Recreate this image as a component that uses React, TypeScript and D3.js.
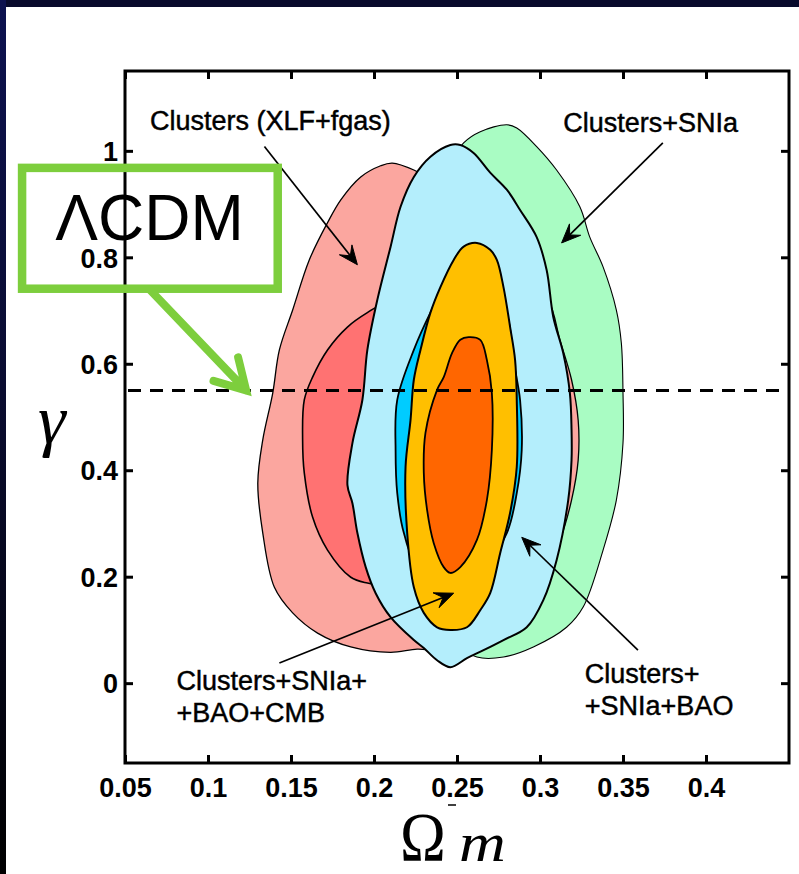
import { useEffect, useRef } from 'react';

import * as d3 from 'd3';

const width = 799;
const height = 874;
const [mt, mr, mb, ml] = [71, 10, 111, 125];

// axis ticks
const xTicks = [0.05, 0.1, 0.15, 0.2, 0.25, 0.3, 0.35, 0.4];
const xTickLabels = ['0.05', '0.1', '0.15', '0.2', '0.25', '0.3', '0.35', '0.4'];
const yTicks = [0, 0.2, 0.4, 0.6, 0.8, 1];
const yTickLabels = ['0', '0.2', '0.4', '0.6', '0.8', '1'];

// LCDM growth index
const lcdmGamma = 0.55;

// confidence contours, [Omega_m, gamma]
const clustersOuter: [number, number][] = [
    [0.211, 0.977], [0.224, 0.964], [0.234, 0.946], [0.258, 0.88], [0.285, 0.795], [0.305, 0.72],
    [0.312, 0.645], [0.319, 0.57], [0.323, 0.494], [0.323, 0.419], [0.319, 0.344], [0.312, 0.269],
    [0.303, 0.212], [0.288, 0.137], [0.264, 0.081], [0.24, 0.062], [0.226, 0.064], [0.21, 0.058],
    [0.186, 0.068], [0.166, 0.094], [0.151, 0.132], [0.14, 0.18], [0.133, 0.282], [0.13, 0.376],
    [0.133, 0.457], [0.139, 0.545], [0.143, 0.626], [0.151, 0.701], [0.161, 0.795], [0.172, 0.865],
    [0.18, 0.908], [0.192, 0.951], [0.204, 0.972]
];
const clustersInner: [number, number][] = [
    [0.204, 0.709], [0.228, 0.701], [0.258, 0.645], [0.279, 0.532], [0.288, 0.419], [0.282, 0.288],
    [0.258, 0.203], [0.222, 0.179], [0.196, 0.188], [0.186, 0.199], [0.172, 0.25], [0.163, 0.312],
    [0.158, 0.395], [0.157, 0.457], [0.158, 0.532], [0.163, 0.575], [0.172, 0.626], [0.184, 0.669],
    [0.196, 0.696]
];
const clustersSnOuter: [number, number][] = [
    [0.254, 1.015], [0.264, 1.036], [0.28, 1.049], [0.286, 1.043], [0.298, 1.008], [0.31, 0.964],
    [0.324, 0.895], [0.33, 0.838], [0.338, 0.782], [0.346, 0.701], [0.349, 0.639], [0.35, 0.545],
    [0.35, 0.451], [0.346, 0.344], [0.338, 0.25], [0.326, 0.143], [0.316, 0.105], [0.296, 0.068],
    [0.278, 0.049], [0.262, 0.049], [0.246, 0.081], [0.234, 0.231], [0.228, 0.532], [0.231, 0.814],
    [0.24, 0.946]
];
const clustersSnBaoOuter: [number, number][] = [
    [0.246, 1.011], [0.252, 1.011], [0.26, 0.996], [0.27, 0.959], [0.28, 0.927], [0.288, 0.889],
    [0.298, 0.838], [0.304, 0.776], [0.308, 0.688], [0.314, 0.62], [0.318, 0.545], [0.319, 0.476],
    [0.319, 0.419], [0.317, 0.344], [0.31, 0.231], [0.302, 0.156], [0.292, 0.105], [0.278, 0.081],
    [0.266, 0.062], [0.256, 0.047], [0.246, 0.03], [0.238, 0.043], [0.23, 0.066], [0.224, 0.081],
    [0.21, 0.124], [0.201, 0.169], [0.195, 0.218], [0.19, 0.282], [0.187, 0.338], [0.184, 0.372],
    [0.187, 0.451], [0.193, 0.532], [0.196, 0.626], [0.202, 0.72], [0.21, 0.82], [0.216, 0.895],
    [0.224, 0.951], [0.234, 0.989]
];
const clustersSnBaoInner: [number, number][] = [
    [0.255, 0.78], [0.264, 0.786], [0.273, 0.748], [0.281, 0.682], [0.284, 0.607], [0.288, 0.532],
    [0.289, 0.438], [0.286, 0.357], [0.28, 0.282], [0.267, 0.222], [0.249, 0.203], [0.225, 0.231],
    [0.218, 0.282], [0.214, 0.357], [0.213, 0.438], [0.214, 0.532], [0.224, 0.626], [0.234, 0.696],
    [0.243, 0.748]
];
const allOuter: [number, number][] = [
    [0.262, 0.827], [0.27, 0.814], [0.274, 0.795], [0.278, 0.744], [0.282, 0.669], [0.285, 0.607],
    [0.286, 0.532], [0.286, 0.406], [0.282, 0.32], [0.276, 0.244], [0.27, 0.169], [0.264, 0.137],
    [0.256, 0.105], [0.246, 0.1], [0.238, 0.105], [0.23, 0.132], [0.224, 0.18], [0.22, 0.282],
    [0.219, 0.406], [0.222, 0.494], [0.224, 0.57], [0.228, 0.626], [0.234, 0.696], [0.24, 0.744],
    [0.248, 0.795], [0.254, 0.82]
];
const allInner: [number, number][] = [
    [0.257, 0.65], [0.264, 0.645], [0.268, 0.607], [0.271, 0.545], [0.271, 0.438], [0.268, 0.344],
    [0.262, 0.269], [0.252, 0.218], [0.246, 0.207], [0.242, 0.218], [0.236, 0.263], [0.232, 0.325],
    [0.23, 0.395], [0.231, 0.47], [0.238, 0.551], [0.242, 0.575], [0.247, 0.62], [0.252, 0.645]
];

// drawing order (back to front)
const contours = [
    { pts: clustersSnOuter, fill: '#a9fcc3', sw: 1.1 },
    { pts: clustersOuter, fill: '#fba69f', sw: 1.3 },
    { pts: clustersInner, fill: '#ff7272', sw: 1.6 },
    { pts: clustersSnBaoOuter, fill: '#b4eefc', sw: 2 },
    { pts: clustersSnBaoInner, fill: '#00ccff', sw: 1.8 },
    { pts: allOuter, fill: '#ffbf00', sw: 2 },
    { pts: allInner, fill: '#ff6600', sw: 1.8 }
];

// annotations: label lines, label anchor, arrow from/to (data units)
const notes = [
    { lines: ['Clusters (XLF+fgas)'], at: [0.065, 1.04], from: [0.134, 1.008], to: [0.19, 0.786] },
    { lines: ['Clusters+SNIa'], at: [0.314, 1.036], from: [0.374, 1.015], to: [0.313, 0.827] },
    { lines: ['Clusters+SNIa+', '+BAO+CMB'], at: [0.081, -0.013], from: [0.143, 0.038], to: [0.248, 0.169] },
    { lines: ['Clusters+', '+SNIa+BAO'], at: [0.327, 0.0], from: [0.359, 0.062], to: [0.289, 0.274] }
];

const lcdmBox = { x0: -0.012, x1: 0.142, y0: 0.741, y1: 0.968 };
const lcdmText = [0.008, 0.833];
const lcdmArrow = { from: [0.065, 0.739], to: [0.123, 0.55] };

const sans = '"Liberation Sans", Arial, Helvetica, sans-serif';
const serif = '"Liberation Serif", "Times New Roman", serif';

export default function App() {
    const chart = useRef<SVGSVGElement>(null);

    useEffect(() => {
        const svg = d3.select(chart.current);
        svg.selectAll('*').remove();

        const x = d3.scaleLinear().domain([0.05, 0.45]).range([ml, width - mr]);
        const y = d3.scaleLinear().domain([-0.15, 1.15]).range([height - mb, mt]);

        // page background + dark border of the slide
        const defs = svg.append('defs');
        const lg = defs.append('linearGradient').attr('id', 'edge').attr('x1', 0).attr('y1', 0).attr('x2', 0).attr('y2', 1);
        lg.append('stop').attr('offset', '0%').attr('stop-color', '#0d1250');
        lg.append('stop').attr('offset', '45%').attr('stop-color', '#0a0c30');
        lg.append('stop').attr('offset', '100%').attr('stop-color', '#000000');
        svg.append('rect').attr('width', width).attr('height', height).attr('fill', '#ffffff');
        svg.append('rect').attr('width', width).attr('height', 7).attr('fill', '#080a2c');
        svg.append('rect').attr('width', 6).attr('height', height).attr('fill', 'url(#edge)');

        // contours
        const line = d3
            .line<[number, number]>()
            .x((d) => x(d[0]))
            .y((d) => y(d[1]))
            .curve(d3.curveCatmullRomClosed.alpha(0.5));

        svg.append('g')
            .selectAll('path')
            .data(contours)
            .enter()
            .append('path')
            .attr('d', (d) => line(d.pts))
            .attr('fill', (d) => d.fill)
            .attr('stroke', '#000')
            .attr('stroke-width', (d) => d.sw)
            .attr('stroke-linejoin', 'round');

        // LCDM dashed line
        svg.append('line')
            .attr('x1', x(0.05) + 3)
            .attr('x2', x(0.45))
            .attr('y1', y(lcdmGamma))
            .attr('y2', y(lcdmGamma))
            .attr('stroke', '#000')
            .attr('stroke-width', 3)
            .attr('stroke-dasharray', '13,9');

        // axes with inward ticks
        const tickFont = (g: d3.Selection<SVGGElement, unknown, null, undefined>) =>
            g
                .call((s) => s.select('.domain').remove())
                .call((s) => s.selectAll('.tick line').attr('stroke', '#000').attr('stroke-width', 3))
                .call((s) =>
                    s
                        .selectAll('.tick text')
                        .attr('fill', '#000')
                        .style('font-family', sans)
                        .style('font-weight', 'bold')
                        .style('font-size', '27px')
                );

        svg.append('g')
            .attr('transform', `translate(0,${height - mb})`)
            .call(
                d3
                    .axisBottom(x)
                    .tickValues(xTicks)
                    .tickSize(-8)
                    .tickPadding(15)
                    .tickFormat((_, i) => xTickLabels[i])
            )
            .call(tickFont);

        svg.append('g')
            .attr('transform', `translate(0,${mt})`)
            .call(d3.axisTop(x).tickValues(xTicks).tickSize(-8).tickFormat(() => ''))
            .call(tickFont);

        svg.append('g')
            .attr('transform', `translate(${ml},0)`)
            .call(
                d3
                    .axisLeft(y)
                    .tickValues(yTicks)
                    .tickSize(-8)
                    .tickPadding(7)
                    .tickFormat((_, i) => yTickLabels[i])
            )
            .call(tickFont)
            .call((g) => g.selectAll('.tick text').attr('dy', '0.36em'));

        svg.append('g')
            .attr('transform', `translate(${width - mr},0)`)
            .call(d3.axisRight(y).tickValues(yTicks).tickSize(-8).tickFormat(() => ''))
            .call(tickFont);

        // stray mark under "0.25"
        svg.append('line')
            .attr('x1', x(0.25) - 9)
            .attr('x2', x(0.25) - 1)
            .attr('y1', height - mb + 42)
            .attr('y2', height - mb + 42)
            .attr('stroke', '#000')
            .attr('stroke-width', 1.5);

        // frame
        svg.append('rect')
            .attr('x', ml)
            .attr('y', mt)
            .attr('width', width - ml - mr)
            .attr('height', height - mt - mb)
            .attr('fill', 'none')
            .attr('stroke', '#000')
            .attr('stroke-width', 3);

        // annotations
        const arrow = (from: number[], to: number[]) => {
            const [x0, y0, x1, y1] = [x(from[0]), y(from[1]), x(to[0]), y(to[1])];
            const len = Math.hypot(x1 - x0, y1 - y0);
            const [ux, uy] = [(x1 - x0) / len, (y1 - y0) / len];
            const [px, py] = [-uy, ux];
            const L = 19;
            const W = 8;
            const nx = x1 - ux * L * 0.6;
            const ny = y1 - uy * L * 0.6;
            svg.append('line')
                .attr('x1', x0)
                .attr('y1', y0)
                .attr('x2', nx)
                .attr('y2', ny)
                .attr('stroke', '#000')
                .attr('stroke-width', 1.7);
            svg.append('path')
                .attr(
                    'd',
                    `M${x1},${y1}L${x1 - ux * L + px * W},${y1 - uy * L + py * W}L${nx},${ny}L${x1 - ux * L - px * W},${
                        y1 - uy * L - py * W
                    }Z`
                )
                .attr('fill', '#000')
                .attr('stroke', '#000')
                .attr('stroke-width', 1)
                .attr('stroke-linejoin', 'round');
        };

        notes.forEach((n) => {
            const t = svg
                .append('text')
                .attr('x', x(n.at[0]))
                .attr('y', y(n.at[1]))
                .attr('fill', '#000')
                .attr('stroke', '#000')
                .attr('stroke-width', 0.45)
                .style('font-family', sans)
                .style('font-size', '27px');
            n.lines.forEach((l, i) => {
                t.append('tspan')
                    .attr('x', x(n.at[0]))
                    .attr('dy', i === 0 ? 0 : 32)
                    .text(l);
            });
            arrow(n.from, n.to);
        });

        // axis titles
        svg.append('text')
            .attr('x', 38)
            .attr('y', 443)
            .attr('fill', '#000')
            .style('font-family', serif)
            .style('font-style', 'italic')
            .style('font-size', '70px')
            .text('γ');

        svg.append('text')
            .attr('transform', `translate(400,861) scale(0.88,1)`)
            .attr('fill', '#000')
            .style('font-family', serif)
            .style('font-size', '70px')
            .text('Ω');
        svg.append('text')
            .attr('transform', `translate(459,861) scale(1.2,1)`)
            .attr('fill', '#000')
            .style('font-family', serif)
            .style('font-style', 'italic')
            .style('font-size', '54px')
            .text('m');

        // LCDM callout
        const green = '#7dce3d';
        svg.append('rect')
            .attr('x', x(lcdmBox.x0))
            .attr('y', y(lcdmBox.y1))
            .attr('width', x(lcdmBox.x1) - x(lcdmBox.x0))
            .attr('height', y(lcdmBox.y0) - y(lcdmBox.y1))
            .attr('fill', 'none')
            .attr('stroke', green)
            .attr('stroke-width', 8.5);

        svg.append('text')
            .attr('x', x(lcdmText[0]))
            .attr('y', y(lcdmText[1]))
            .attr('fill', '#000')
            .style('font-family', sans)
            .style('font-size', '64px')
            .text('ΛCDM');

        const [gx0, gy0, gx1, gy1] = [x(lcdmArrow.from[0]), y(lcdmArrow.from[1]), x(lcdmArrow.to[0]), y(lcdmArrow.to[1])];
        const ang = Math.atan2(gy1 - gy0, gx1 - gx0) + Math.PI;
        const wing = 34;
        const spread = (30 * Math.PI) / 180;
        const gPath = d3.path();
        gPath.moveTo(gx0, gy0);
        gPath.lineTo(gx1, gy1);
        gPath.moveTo(gx1 + wing * Math.cos(ang - spread), gy1 + wing * Math.sin(ang - spread));
        gPath.lineTo(gx1, gy1);
        gPath.lineTo(gx1 + wing * Math.cos(ang + spread), gy1 + wing * Math.sin(ang + spread));
        svg.append('path')
            .attr('d', gPath.toString())
            .attr('fill', 'none')
            .attr('stroke', green)
            .attr('stroke-width', 8)
            .attr('stroke-linecap', 'round')
            .attr('stroke-linejoin', 'miter');
    }, []);

    return (
        <div style={{ position: 'absolute', left: 0, top: 0 }}>
            <svg ref={chart} width={width} height={height} style={{ display: 'block' }} />
        </div>
    );
}
